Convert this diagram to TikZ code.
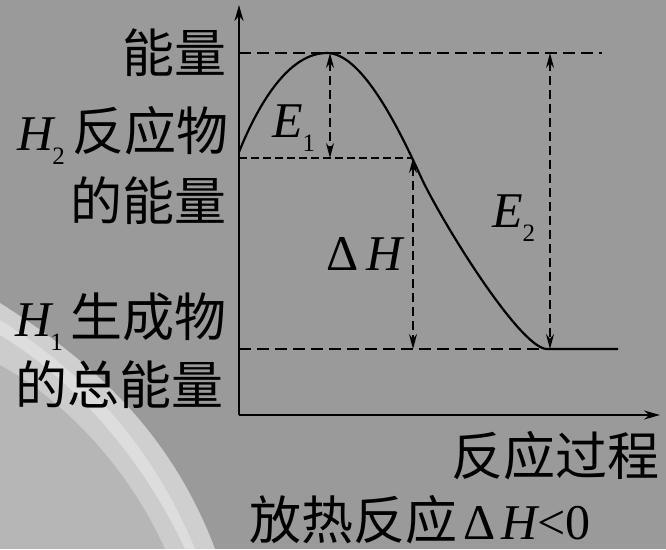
\documentclass[tikz,border=0pt]{standalone}
\usepackage{fontspec}
\setmainfont{Liberation Serif}
\newfontfamily\cjk{Noto Sans CJK SC}
\usetikzlibrary{arrows.meta}
\definecolor{bg}{RGB}{154,154,154}
\newcommand{\cjkbig}{\cjk\fontsize{52}{60}\selectfont}
\newcommand{\latbig}{\rmfamily\fontsize{50}{60}\selectfont}
\newcommand{\subsc}[1]{\raisebox{-14pt}{\rmfamily\upshape\fontsize{25}{25}\selectfont #1}}
\begin{document}
\begin{tikzpicture}[x=1pt,y=-1pt,
  axis/.style={line width=2.2pt,-{Stealth[length=16pt,width=9pt]}},
  curve/.style={line width=2.2pt},
  guide/.style={line width=1.3pt,dash pattern=on 12pt off 6pt},
  guidedense/.style={line width=1.5pt,dash pattern=on 8pt off 4pt},
  dimarrow/.style={line width=1.3pt,dash pattern=on 9pt off 5pt,{Stealth[length=15pt,width=8pt]}-{Stealth[length=15pt,width=8pt]}},
  lbl/.style={inner sep=0pt,font=\cjkbig},
  sym/.style={inner sep=0pt,font=\latbig}]
\fill[bg] (0,0) rectangle (666,549);
\useasboundingbox (0,0) rectangle (666,549);
% light swoosh in the lower left corner
\fill[white,opacity=0.28] (0,303) .. controls (90,360) and (170,430) .. (215,549) -- (0,549) -- cycle;
\fill[white,opacity=0.35] (0,303) .. controls (90,360) and (170,430) .. (215,549) -- (185,549) .. controls (145,462) and (75,380) .. (0,335) -- cycle;
\fill[white,opacity=0.3] (0,320) .. controls (80,370) and (150,440) .. (195,549) -- (165,549) .. controls (130,470) and (65,400) .. (0,365) -- cycle;
% coordinates
\coordinate (O) at (239,415);
\coordinate (ytip) at (239,5);
\coordinate (xtip) at (660,415);
\coordinate (start) at (239,152);
\coordinate (peak) at (327,53);
\coordinate (infl) at (420,175);
\coordinate (prod) at (547,349);
\coordinate (prodend) at (618,349);
\coordinate (topL) at (239,53);
\coordinate (topR) at (602,53);
\coordinate (reacL) at (239,158);
\coordinate (reacR) at (412,158);
\coordinate (prodL) at (239,349);
\coordinate (e1top) at (330,53);
\coordinate (e1bot) at (330,158);
\coordinate (dhtop) at (413,158);
\coordinate (dhbot) at (413,349);
\coordinate (e2top) at (550,53);
\coordinate (e2bot) at (550,349);
% guide lines
\draw[guide] (topL) -- (topR);
\draw[guidedense] (reacL) -- (reacR);
\draw[guide] (prodL) -- (prod);
% dimension arrows
\draw[dimarrow] (e1top) -- (e1bot);
\draw[dimarrow] (dhtop) -- (dhbot);
\draw[dimarrow] (e2top) -- (e2bot);
% energy curve
\draw[curve] (start) .. controls (260,100) and (290,53) .. (peak)
  .. controls (360,53) and (395,120) .. (infl)
  .. controls (440,219) and (520,349) .. (prod) -- (prodend);
% axes
\draw[axis] (O) -- (ytip);
\draw[axis] (O) -- (xtip);
% labels
\node[lbl,anchor=base east] (nl) at (227,72) {能量};
\node[lbl,anchor=base east] (h2) at (229,150) {{\latbig\itshape H}\kern-1pt\subsc{2}\kern8pt 反应物};
\node[lbl,anchor=base east] (rl) at (227,220) {的能量};
\node[lbl,anchor=base east] (h1) at (227,336) {{\latbig\itshape H}\kern-1pt\subsc{1}\kern8pt 生成物};
\node[lbl,anchor=base east] (pl) at (224,404) {的总能量};
\node[lbl,anchor=base east] (xl) at (660,475) {反应过程};
\node[lbl,anchor=base west] (cap) at (249,539) {放热反应\kern6pt{\latbig Δ\kern6pt\itshape H\upshape<0}};
\node[sym,anchor=base west] (e1) at (272,137) {\itshape E\kern0pt\subsc{1}};
\node[sym,anchor=base west] (dh) at (326,270) {Δ\kern8pt\itshape H};
\node[sym,anchor=base west] (e2) at (492,227) {\itshape E\kern0pt\subsc{2}};
\end{tikzpicture}
\end{document}
